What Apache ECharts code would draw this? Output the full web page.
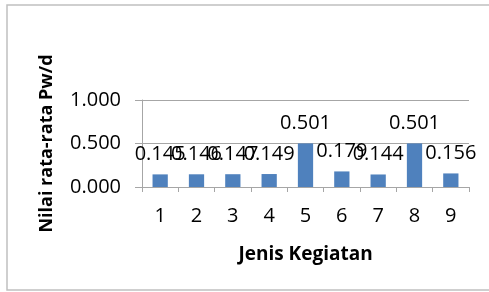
<!DOCTYPE html>
<html>
<head>
<meta charset="utf-8">
<script src="https://cdn.jsdelivr.net/npm/echarts@6/dist/echarts.min.js"></script>
<style>
  html, body { margin: 0; padding: 0; background: #fff; }
  #chart { width: 489px; height: 292px; }
</style>
</head>
<body>
<div id="chart"></div>
<script>
var categories = ['1', '2', '3', '4', '5', '6', '7', '8', '9'];
var values = [0.145, 0.146, 0.147, 0.149, 0.501, 0.179, 0.144, 0.501, 0.156];

var myChart = echarts.init(document.getElementById('chart'));
var axisGray = '#a6a6a6';
var option = {
  backgroundColor: '#ffffff',
  animation: false,
  textStyle: { fontFamily: 'Open Sans' },
  graphic: [{
    type: 'rect',
    shape: { x: 7, y: 5, width: 520, height: 285 },
    style: { fill: 'none', stroke: '#c0c0c0', lineWidth: 1.5 },
    silent: true
  }],
  grid: { left: 142, right: 20, top: 100, bottom: 105 },
  xAxis: {
    type: 'category',
    data: categories,
    name: 'Jenis Kegiatan',
    nameLocation: 'middle',
    nameGap: 58,
    nameTextStyle: { fontSize: 19, fontWeight: 'bold', color: '#000' },
    axisLine: { lineStyle: { color: axisGray, width: 1 } },
    axisTick: { show: true, length: 5, lineStyle: { color: axisGray } },
    axisLabel: { fontSize: 20, color: '#000', margin: 19 }
  },
  yAxis: {
    type: 'value',
    min: 0,
    max: 1,
    interval: 0.5,
    name: 'Nilai rata-rata Pw/d',
    nameLocation: 'middle',
    nameGap: 86,
    nameTextStyle: { fontSize: 18, fontWeight: 'bold', color: '#000' },
    axisLine: { show: true, lineStyle: { color: axisGray, width: 1 } },
    axisTick: { show: true, length: 7, lineStyle: { color: axisGray } },
    splitLine: { lineStyle: { color: axisGray, width: 1 } },
    axisLabel: {
      fontSize: 20, color: '#000', margin: 21,
      formatter: function (v) { return v.toFixed(3); }
    }
  },
  series: [{
    type: 'bar',
    data: values,
    barWidth: '42%',
    itemStyle: { color: '#4f81bd' },
    label: {
      show: true,
      position: 'top',
      distance: 10,
      fontSize: 20,
      color: '#000',
      formatter: function (p) { return p.value.toFixed(3); }
    }
  }]
};
myChart.setOption(option);
window.addEventListener('resize', function () {
  myChart.resize();
});
</script>
</body>
</html>
